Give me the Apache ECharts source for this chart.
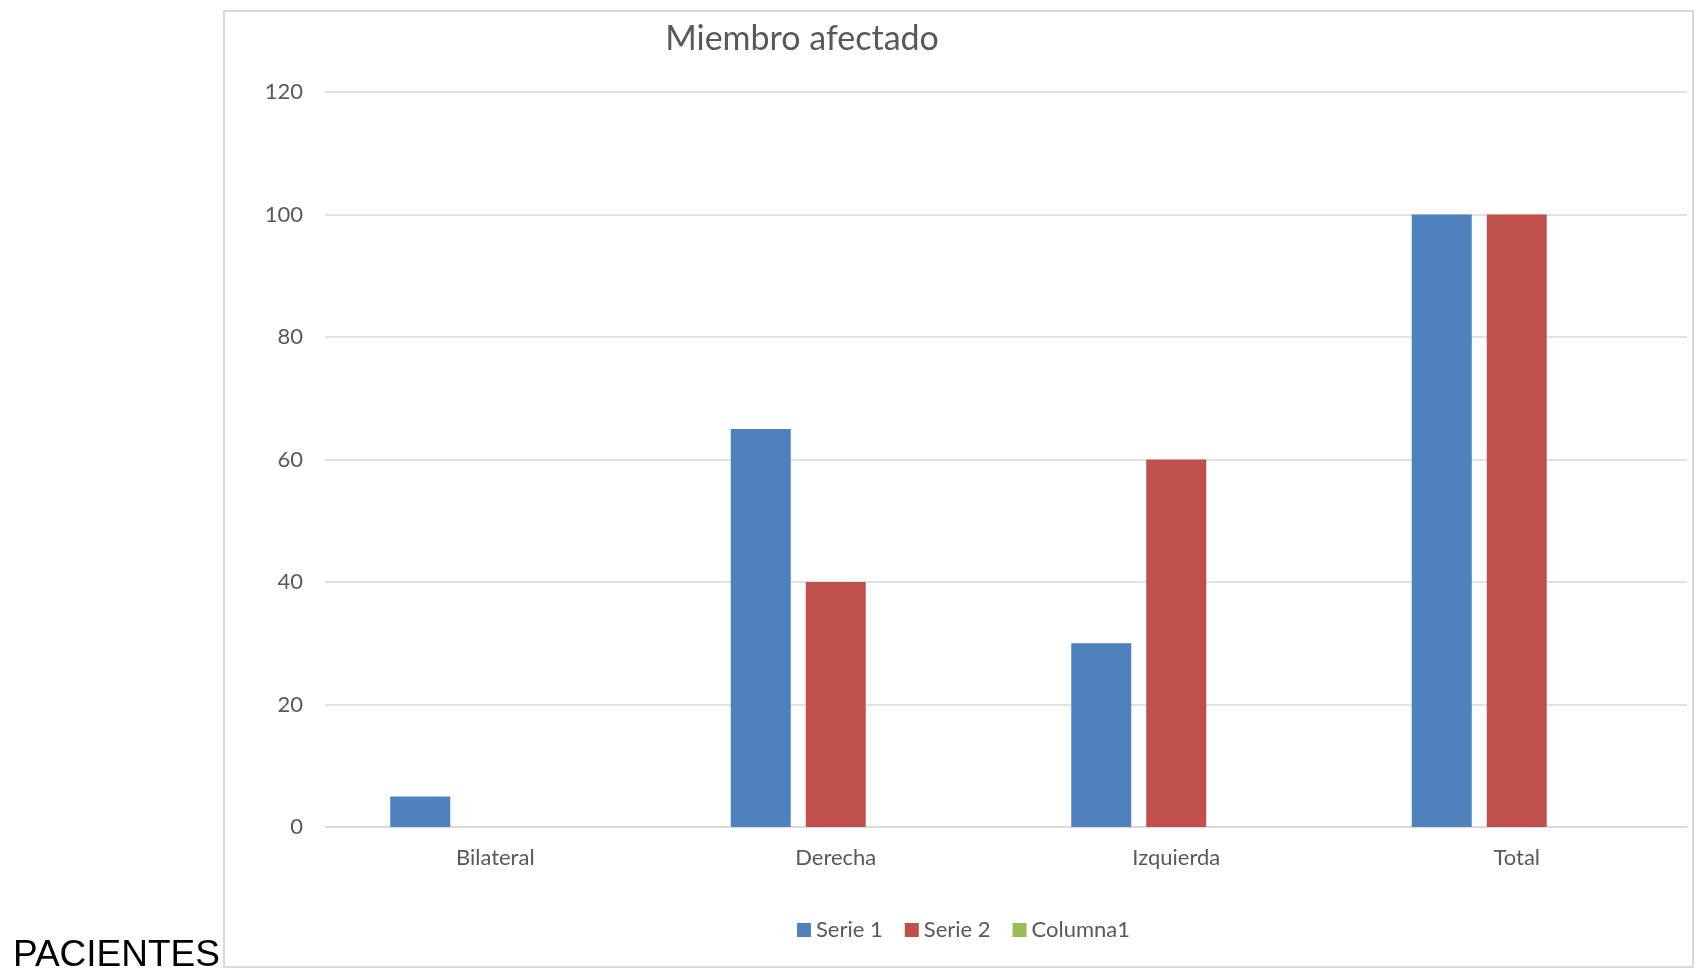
<!DOCTYPE html>
<html>
<head>
<meta charset="utf-8">
<script src="https://cdn.jsdelivr.net/npm/echarts@6/dist/echarts.min.js"></script>
<style>
  html, body { margin: 0; padding: 0; background: #ffffff; }
  #chart { width: 1698px; height: 975px; }
</style>
</head>
<body>
<div id="chart"></div>
<script>
// Affected limb, per group
const categories = ['Bilateral', 'Derecha', 'Izquierda', 'Total'];
const serie1 = [5, 65, 30, 100];
const serie2 = [null, 40, 60, 100];
const columna1 = [null, null, null, null];
const yTicks = [0, 20, 40, 60, 80, 100, 120];

const font = 'Lato, "Open Sans", sans-serif';
const textGrey = '#595959';

const chart = echarts.init(document.getElementById('chart'), null, { renderer: 'canvas' });

chart.setOption({
  animation: false,
  backgroundColor: '#ffffff',
  legend: {
    data: ['Serie 1', 'Serie 2', 'Columna1'],
    left: 792,
    top: 914,
    itemWidth: 14,
    itemHeight: 14,
    itemGap: 22,
    icon: 'rect',
    textStyle: { fontFamily: font, fontSize: 22, color: textGrey, padding: [0, 0, 0, 0] }
  },
  grid: { left: 325, right: 11, top: 92, bottom: 148, containLabel: false },
  xAxis: {
    type: 'category',
    data: categories,
    axisLine: { lineStyle: { color: '#d9d9d9', width: 1.5 } },
    axisTick: { show: false },
    axisLabel: { fontFamily: font, fontSize: 22, color: textGrey, margin: 20 }
  },
  yAxis: {
    type: 'value',
    min: yTicks[0],
    max: yTicks[yTicks.length - 1],
    interval: yTicks[1] - yTicks[0],
    axisLine: { show: false },
    axisTick: { show: false },
    splitLine: { lineStyle: { color: '#d9d9d9', width: 1.5 } },
    axisLabel: { fontFamily: font, fontSize: 22, color: textGrey, margin: 22 }
  },
  series: [
    { name: 'Serie 1', type: 'bar', data: serie1, barWidth: 60, barGap: '25%',
      itemStyle: { color: '#4f81bd' } },
    { name: 'Serie 2', type: 'bar', data: serie2, barWidth: 60, barGap: '25%',
      itemStyle: { color: '#c0504d' } },
    { name: 'Columna1', type: 'bar', data: columna1, barWidth: 60, barGap: '25%',
      itemStyle: { color: '#9bbb59' } }
  ],
  graphic: [
    {
      type: 'rect',
      shape: { x: 224, y: 11, width: 1469, height: 956 },
      style: { fill: null, stroke: '#d9d9d9', lineWidth: 2 },
      silent: true
    },
    {
      type: 'text',
      x: 802,
      y: 39,
      style: {
        text: 'Miembro afectado',
        fontFamily: font, fontSize: 34, fill: textGrey,
        align: 'center', verticalAlign: 'middle'
      }
    },
    {
      type: 'text',
      left: 13,
      top: 937,
      style: { text: 'PACIENTES', fontFamily: '"Liberation Sans", Arial, sans-serif', fontSize: 37, fill: '#000000' }
    }
  ]
});
</script>
</body>
</html>
